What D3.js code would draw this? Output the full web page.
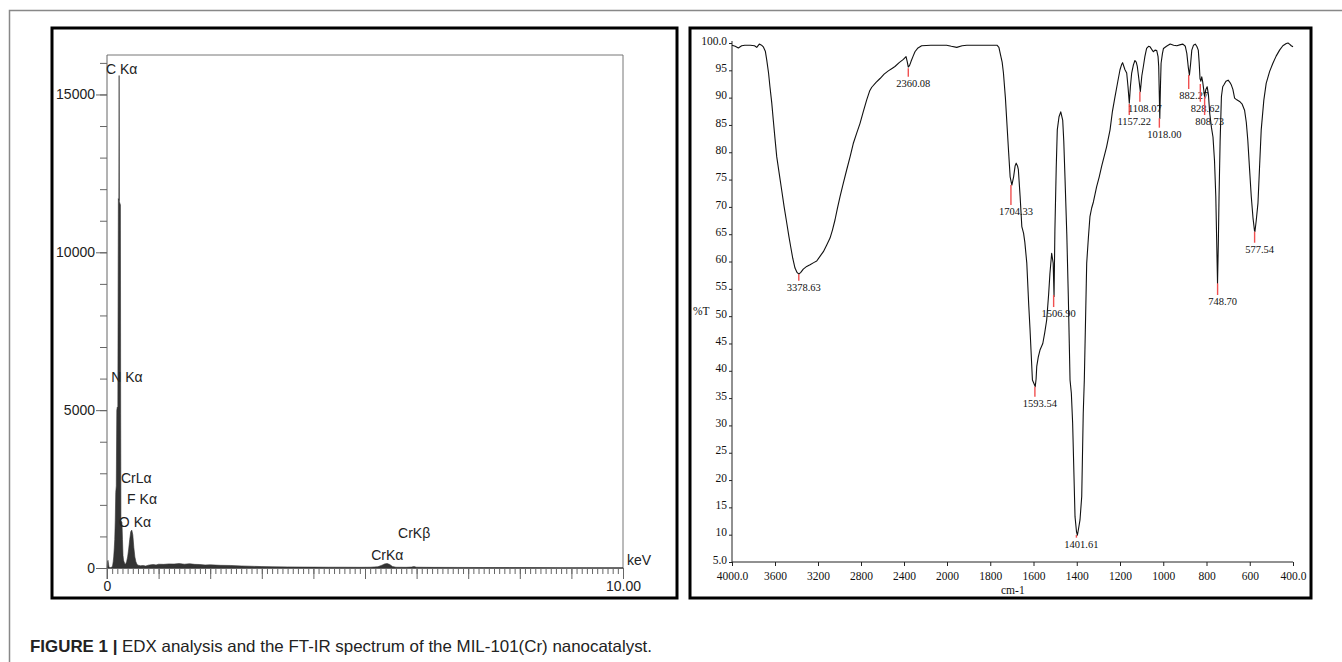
<!DOCTYPE html>
<html>
<head>
<meta charset="utf-8">
<script src="https://cdn.jsdelivr.net/npm/d3@7"></script>
<style>
  body { margin: 0; background: #fff; }
  svg { display: block; }
  .edx text { font-family: "Liberation Sans Narrow", "Arial Narrow", "Liberation Sans", sans-serif; font-size: 14px; fill: #222; }
  .ir text { font-family: "Liberation Serif", "Times New Roman", serif; fill: #111; }
</style>
</head>
<body>
<svg width="1342" height="662"></svg>
<script>
// ---- EDX spectrum (keV vs counts)
const edxEnergy = [0.00, 0.01, 0.02, 0.03, 0.04, 0.06, 0.08, 0.10, 0.11, 0.12, 0.13, 0.14, 0.15, 0.16, 0.17, 0.18,
  0.19, 0.20, 0.21, 0.22, 0.23, 0.235, 0.24, 0.26, 0.265, 0.27, 0.29, 0.30, 0.31, 0.32, 0.34, 0.36, 0.38, 0.40,
  0.42, 0.44, 0.46, 0.48, 0.50, 0.52, 0.54, 0.56, 0.58, 0.60, 0.65, 0.70, 0.75, 0.80, 0.85, 0.90, 0.95, 1.00,
  1.10, 1.20, 1.30, 1.40, 1.50, 1.60, 1.70, 1.80, 1.90, 2.00, 2.20, 2.40, 2.60, 2.80, 3.00, 3.20, 3.50, 3.80,
  4.00, 4.30, 4.60, 4.90, 5.10, 5.25, 5.33, 5.38, 5.43, 5.48, 5.53, 5.60, 5.80, 5.90, 5.95, 6.00, 6.30, 6.80,
  7.30, 7.80, 8.30, 8.80, 9.30, 10.00];
const edxCounts = [0, 220, 240, 120, 20, 10, 15, 40, 90, 200, 350, 600, 900, 1500, 2400, 2600,
  5000, 5100, 5050, 11700, 11650, 15600, 11600, 11500, 4900, 1500, 1450, 900, 400, 250, 150, 120, 200, 350,
  600, 900, 1150, 1200, 1050, 650, 350, 200, 120, 90, 70, 80, 60, 90, 100, 110, 95, 120,
  115, 130, 125, 140, 120, 135, 115, 110, 95, 100, 85, 80, 65, 55, 45, 40, 35, 30,
  28, 25, 25, 22, 25, 40, 90, 130, 140, 110, 50, 25, 22, 30, 45, 25, 20, 18,
  15, 14, 12, 10, 10, 8];
const edxLabels = ["C K\u03b1", "N K\u03b1", "CrL\u03b1", "F K\u03b1", "O K\u03b1", "CrK\u03b1", "CrK\u03b2"];
const edxLabelEnergy = [-0.02, 0.08, 0.27, 0.39, 0.23, 5.12, 5.64];
const edxLabelCounts = [15650, 5890, 2690, 2025, 1300, 255, 950];

// ---- FT-IR spectrum (cm-1 vs %T)
const irWavenumber = [4000, 3970, 3941, 3910, 3880, 3830, 3790, 3770, 3746, 3725, 3709, 3690, 3677, 3660, 3647,
  3630, 3616, 3600, 3584, 3560, 3538, 3515, 3491, 3470, 3454, 3435, 3414, 3395, 3378, 3360, 3337, 3305, 3274,
  3240, 3212, 3180, 3150, 3120, 3088, 3065, 3042, 3020, 2995, 2965, 2933, 2900, 2872, 2840, 2809, 2778, 2747,
  2720, 2700, 2660, 2623, 2585, 2546, 2515, 2484, 2445, 2406, 2381, 2370, 2360, 2348, 2335, 2315, 2298, 2270,
  2236, 2150, 2080, 2004, 1980, 1955, 1930, 1908, 1850, 1800, 1769, 1760, 1754, 1745, 1739, 1730, 1723, 1715,
  1708, 1700, 1692, 1685, 1680, 1674, 1670, 1662, 1654, 1646, 1640, 1631, 1622, 1616, 1605, 1596, 1592, 1588,
  1585, 1578, 1570, 1557, 1548, 1539, 1530, 1524, 1516, 1512, 1509, 1505, 1501, 1495, 1490, 1482, 1474, 1465,
  1460, 1454, 1446, 1439, 1431, 1425, 1419, 1408, 1401, 1397, 1390, 1385, 1377, 1370, 1365, 1360, 1354, 1346,
  1339, 1331, 1323, 1308, 1296, 1285, 1262, 1246, 1235, 1223, 1210, 1200, 1193, 1188, 1182, 1177, 1169, 1163,
  1157, 1152, 1146, 1138, 1131, 1125, 1120, 1113, 1106, 1099, 1092, 1085, 1077, 1068, 1061, 1046, 1038, 1030,
  1024, 1021, 1016, 1013, 1010, 1004, 999, 985, 968, 952, 937, 920, 909, 898, 891, 884, 879, 874, 868, 860,
  852, 845, 838, 834, 830, 826, 822, 818, 813, 809, 803, 797, 791, 785, 777, 770, 763, 757, 753, 749, 745,
  742, 737, 731, 725, 720, 710, 700, 692, 685, 678, 670, 660, 647, 635, 624, 616, 609, 601, 593, 585, 578,
  576, 570, 562, 555, 547, 535, 524, 508, 493, 478, 462, 447, 431, 423, 416, 408, 400];
const irTransmittance = [99.6, 99.4, 99.1, 99.5, 99.6, 99.6, 99.5, 99.2, 99.8, 99.6, 99.3, 98.5, 96.9, 94.5, 92.0,
  89.0, 85.9, 82.5, 79.2, 76.0, 73.1, 70.0, 67.1, 64.5, 62.7, 60.6, 58.8, 58.0, 57.7, 58.0, 58.6, 59.1, 59.4,
  59.8, 60.1, 61.0, 61.8, 63.0, 64.3, 65.8, 67.6, 69.7, 71.9, 74.3, 76.8, 79.3, 81.6, 83.5, 85.3, 87.5, 89.6,
  91.2, 91.9, 92.8, 93.5, 94.3, 94.9, 95.3, 95.7, 96.4, 97.0, 97.5, 96.6, 95.6, 95.9, 96.6, 97.6, 98.4, 99.1,
  99.5, 99.6, 99.6, 99.6, 99.4, 99.2, 99.5, 99.6, 99.6, 99.6, 99.6, 99.2, 98.1, 96.5, 94.5, 90.0, 85.3, 80.0,
  75.5, 74.0, 75.5, 77.5, 78.0, 77.5, 76.8, 72.0, 66.4, 65.2, 63.5, 59.7, 52.0, 47.5, 38.3, 37.5, 37.1, 38.5,
  40.8, 42.5, 43.8, 45.0, 47.0, 49.3, 54.0, 57.8, 61.5, 60.5, 59.7, 53.6, 65.8, 77.0, 84.1, 86.5, 87.4, 85.9,
  82.0, 74.9, 65.0, 53.6, 38.3, 35.9, 30.4, 13.3, 10.5, 9.9, 11.5, 12.7, 17.0, 32.2, 38.3, 48.0, 59.7, 64.5,
  68.2, 69.8, 70.9, 73.7, 75.5, 77.4, 81.0, 84.1, 87.5, 90.2, 93.0, 95.1, 96.0, 96.4, 95.7, 95.1, 94.5, 92.0,
  89.0, 92.0, 94.5, 96.0, 96.8, 96.5, 95.7, 93.5, 91.1, 94.0, 95.7, 97.5, 99.0, 99.4, 99.3, 98.4, 98.7, 98.6,
  97.5, 95.7, 86.2, 92.0, 96.3, 98.0, 99.0, 99.4, 99.8, 99.6, 99.5, 99.7, 99.8, 99.4, 98.1, 95.5, 94.1, 96.0, 98.7, 99.6,
  99.8, 99.4, 98.7, 96.5, 93.5, 93.0, 93.8, 93.0, 91.5, 90.2, 91.5, 92.0, 90.5, 87.1, 84.5, 82.8, 78.5, 71.9, 64.0, 56.0, 64.0,
  71.9, 82.0, 90.2, 92.0, 92.3, 93.0, 93.2, 92.8, 92.3, 91.5, 89.9, 89.6, 89.3, 88.8, 87.7, 85.5, 82.2, 77.0, 71.9, 68.0, 65.6,
  65.5, 67.5, 70.7, 77.0, 84.1, 89.5, 92.6, 94.8, 96.3, 97.6, 98.7, 99.5, 99.9, 100.0, 99.8, 99.5, 99.3];
const peakWavenumber = [3378.63, 2360.08, 1704.33, 1593.54, 1506.90, 1401.61, 1157.22, 1108.07, 1018.00, 882.27, 828.62, 808.73, 748.70, 577.54];
const peakTransmittance = [57.66, 95.37, 74.0, 37.1, 53.87, 9.94, 88.83, 91.09, 86.22, 94.14, 92.5, 90.17, 56.0, 65.46];
const peakLabelLevel = [54.66, 92.0, 68.52, 33.43, 49.84, 7.62, 84.99, 87.42, 82.67, 89.75, 87.42, 84.99, 52.04, 61.61];
const irYTicks = d3.range(5, 101, 5);
const irXTicks = [4000, 3600, 3200, 2800, 2400, 2000, 1800, 1600, 1400, 1200, 1000, 800, 600, 400];

const svg = d3.select("svg");
svg.append("rect").attr("width", 1342).attr("height", 662).attr("fill", "#fff");

// outer figure frame (top + left only)
svg.append("path").attr("d", "M9.5,662V10.5H1342").attr("fill", "none").attr("stroke", "#888").attr("stroke-width", 1.5);

// panel frames
svg.append("rect").attr("x", 52).attr("y", 28).attr("width", 625).attr("height", 570)
  .attr("fill", "none").attr("stroke", "#000").attr("stroke-width", 3);
svg.append("rect").attr("x", 690).attr("y", 28).attr("width", 621).attr("height", 570)
  .attr("fill", "none").attr("stroke", "#000").attr("stroke-width", 3);

// ================= EDX =================
const edx = svg.append("g").attr("class", "edx");
const xE = d3.scaleLinear().domain([0, 10]).range([107, 623]);
const yE = d3.scaleLinear().domain([0, 16250]).range([568, 55]);

// box (top + right)
edx.append("path").attr("d", `M${xE(0)},${yE(16250)}H${xE(10)}V${yE(0)}`)
  .attr("fill", "none").attr("stroke", "#777").attr("stroke-width", 1);

const edxArea = d3.area().x((d, i) => xE(edxEnergy[i])).y0(yE(0)).y1(d => yE(d));
edx.append("path").datum(edxCounts).attr("d", edxArea).attr("fill", "#333").attr("stroke", "#333").attr("stroke-width", 0.6);

// y axis: minor + major
const yMinor = edx.append("g").attr("transform", `translate(${xE(0)},0)`)
  .call(d3.axisLeft(yE).tickValues(d3.range(0, 16001, 1000)).tickSize(7).tickFormat(""));
const yMajor = edx.append("g").attr("transform", `translate(${xE(0)},0)`)
  .call(d3.axisLeft(yE).tickValues([0, 5000, 10000, 15000]).tickSize(11).tickPadding(1).tickFormat(d3.format("d")));
// x axis: minor + major
const xMinor = edx.append("g").attr("transform", `translate(0,${yE(0)})`)
  .call(d3.axisBottom(xE).tickValues(d3.range(0, 100.5, 1).map(d => d / 10)).tickSize(6).tickFormat(""));
const xMajor = edx.append("g").attr("transform", `translate(0,${yE(0)})`)
  .call(d3.axisBottom(xE).tickValues(d3.range(0, 11, 1)).tickSize(11).tickPadding(2)
    .tickFormat(d => d === 0 ? "0" : d === 10 ? "10.00" : ""));
[yMinor, yMajor, xMinor, xMajor].forEach(g => {
  g.selectAll("path, line").attr("stroke", "#666");
  g.select(".domain").attr("stroke", "#666");
  g.selectAll("text").attr("font-size", null).attr("font-family", null).attr("fill", "#222");
});
xMinor.select(".domain").remove();
yMinor.select(".domain").remove();
yMajor.select(".domain").attr("d", `M0,${yE(16250)}V${yE(0) + 11}`);

edx.selectAll(".peaklab").data(edxLabels).enter().append("text")
  .attr("x", (d, i) => xE(edxLabelEnergy[i]))
  .attr("y", (d, i) => yE(edxLabelCounts[i]))
  .text(d => d);
edx.append("text").attr("x", xE(10) + 4).attr("y", yE(0) - 3).text("keV");

// ================= FT-IR =================
const ir = svg.append("g").attr("class", "ir");
const xI = d3.scaleLinear().domain([4000, 2000, 400]).range([732, 947, 1293]);
const yI = d3.scaleLinear().domain([5, 100]).range([562, 43]);

const yAxisI = ir.append("g").attr("transform", `translate(${xI(4000)},0)`)
  .call(d3.axisLeft(yI).tickValues(irYTicks).tickSize(3).tickPadding(2)
    .tickFormat(d => d === 100 || d === 5 ? d.toFixed(1) : d));
const xAxisI = ir.append("g").attr("transform", `translate(0,${yI(5)})`)
  .call(d3.axisBottom(xI).tickValues(irXTicks).tickSize(4).tickPadding(6)
    .tickFormat(d => d === 4000 || d === 400 ? d.toFixed(1) : d));
[yAxisI, xAxisI].forEach(g => {
  g.selectAll("path, line").attr("stroke", "#222");
  g.selectAll("text").attr("font-size", 11.5).attr("font-family", null).attr("fill", "#111");
});
yAxisI.selectAll("text").attr("dy", "0.1em");
yAxisI.select(".domain").attr("d", `M0,${yI(100) - 2}V${yI(5)}`);
xAxisI.select(".domain").attr("d", `M${xI(4000)},0H${xI(400)}`);

ir.append("text").attr("x", 693).attr("y", 315).attr("font-size", 11.5).text("%T");
ir.append("text").attr("x", 1001).attr("y", 594).attr("font-size", 11.5).text("cm-1");

const irLine = d3.line().x((d, i) => xI(irWavenumber[i])).y(d => yI(d));
ir.append("path").datum(irTransmittance).attr("d", irLine)
  .attr("fill", "none").attr("stroke", "#111").attr("stroke-width", 1.1).attr("stroke-linejoin", "round");

const peaks = ir.selectAll(".pk").data(peakWavenumber).enter().append("g");
peaks.append("line")
  .attr("x1", d => xI(d)).attr("x2", d => xI(d))
  .attr("y1", (d, i) => yI(peakTransmittance[i]))
  .attr("y2", (d, i) => Math.max(yI(peakTransmittance[i]) + 2.5, yI(peakLabelLevel[i]) - 10))
  .attr("stroke", "#f05050").attr("stroke-width", 1.4);
peaks.append("text")
  .attr("x", d => xI(d) + 5)
  .attr("y", (d, i) => yI(peakLabelLevel[i]))
  .attr("text-anchor", "middle").attr("font-size", 10.5)
  .text(d => d.toFixed(2));

// caption
const cap = svg.append("text").attr("x", 30).attr("y", 652)
  .attr("font-family", "'Liberation Sans', Arial, sans-serif").attr("font-size", 16.5).attr("fill", "#222")
  .attr("textLength", 622).attr("lengthAdjust", "spacingAndGlyphs");
cap.append("tspan").attr("font-weight", "bold").text("FIGURE 1 | ");
cap.append("tspan").text("EDX analysis and the FT-IR spectrum of the MIL-101(Cr) nanocatalyst.");
</script>
</body>
</html>
